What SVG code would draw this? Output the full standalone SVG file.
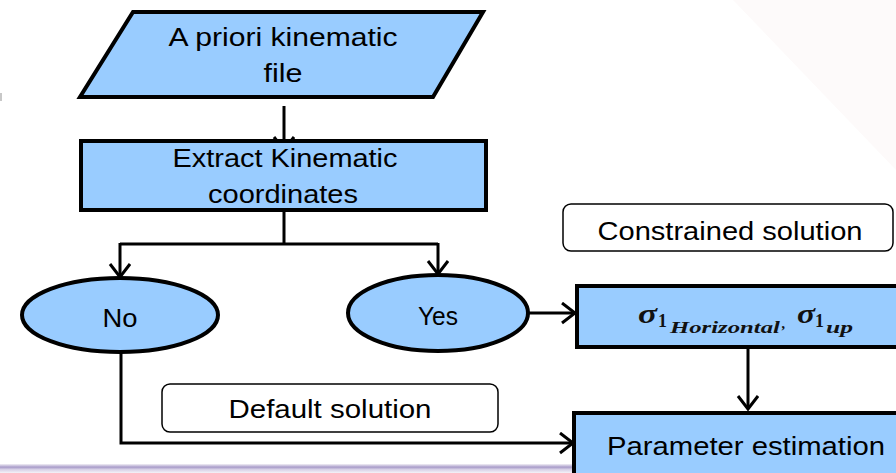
<svg xmlns="http://www.w3.org/2000/svg" width="896" height="473" viewBox="0 0 896 473">
<style>
.shape{fill:#99CCFF;stroke:#000;stroke-width:4}
.note{fill:#fff;stroke:#000;stroke-width:1.5}
.t{font-family:"Liberation Sans",Arial,sans-serif;font-size:26px;fill:#000;text-anchor:middle}
.conn{fill:none;stroke:#000;stroke-width:3;marker-end:url(#ah)}
.m{font-family:"Liberation Serif","Times New Roman",serif;font-weight:bold;font-style:italic;fill:#111}
</style>
<defs>
<marker id="ah" markerUnits="userSpaceOnUse" markerWidth="20" markerHeight="24" refX="15" refY="11" orient="auto" viewBox="0 0 20 24">
<path d="M2,1 L15,11 L2,21" fill="none" stroke="#000" stroke-width="3"/>
</marker>
<linearGradient id="bar" x1="0" y1="0" x2="0" y2="1">
<stop offset="0" stop-color="#f2f0f6"/>
<stop offset="0.35" stop-color="#a89bc9"/>
<stop offset="0.6" stop-color="#d6cfe6"/>
<stop offset="1" stop-color="#f4f2f8"/>
</linearGradient>
</defs>
<rect width="896" height="473" fill="#fff"/>
<polygon points="733,0 896,0 896,170" fill="#fdfafa"/>
<rect x="0" y="93" width="2" height="8" fill="#c8c8c8"/>
<rect x="0" y="464" width="574" height="9" fill="url(#bar)"/>

<g id="connectors">
<path class="conn" d="M284,106 V150"/>
<path d="M284,210 V244 M120,244 H438" fill="none" stroke="#000" stroke-width="3"/>
<path class="conn" d="M120,243 V277"/>
<path class="conn" d="M438,243 V274"/>
<path class="conn" d="M528,313 H575"/>
<path class="conn" d="M121,350 V443 H573"/>
<path class="conn" d="M748,347 V409"/>
</g>

<g id="input-file">
<polygon class="shape" points="133,12 483,12 433,97 80,97" stroke-width="3.5"/>
<text class="t" x="283" y="46" textLength="229" lengthAdjust="spacingAndGlyphs">A priori kinematic</text>
<text class="t" x="283" y="82" textLength="39" lengthAdjust="spacingAndGlyphs">file</text>
</g>

<g id="extract">
<rect class="shape" x="81" y="141" width="405" height="69"/>
<text class="t" x="285" y="167" textLength="225" lengthAdjust="spacingAndGlyphs">Extract Kinematic</text>
<text class="t" x="283" y="203" textLength="150" lengthAdjust="spacingAndGlyphs">coordinates</text>
</g>

<g id="no">
<ellipse class="shape" cx="120" cy="315" rx="98" ry="37" stroke-width="3.5"/>
<text class="t" x="120" y="327" textLength="35" lengthAdjust="spacingAndGlyphs">No</text>
</g>

<g id="yes">
<ellipse class="shape" cx="438" cy="313" rx="90" ry="38" stroke-width="3.5"/>
<text class="t" x="438" y="325" textLength="40" lengthAdjust="spacingAndGlyphs">Yes</text>
</g>

<g id="constrained-label">
<rect class="note" x="563" y="204" width="330" height="47" rx="8"/>
<text class="t" x="730" y="240" textLength="265" lengthAdjust="spacingAndGlyphs">Constrained solution</text>
</g>

<g id="sigma">
<rect class="shape" x="577" y="286" width="325" height="61" stroke-width="5"/>
<text class="m"><tspan x="638" y="323" font-size="27" textLength="19" lengthAdjust="spacingAndGlyphs">σ</tspan><tspan x="658" y="327" font-size="19" font-style="normal" textLength="9" lengthAdjust="spacingAndGlyphs">1</tspan><tspan x="670" y="333" font-size="16" textLength="110" lengthAdjust="spacingAndGlyphs">Horizontal</tspan><tspan x="782" y="328" font-size="15">,</tspan><tspan x="797" y="323" font-size="27" textLength="18" lengthAdjust="spacingAndGlyphs">σ</tspan><tspan x="815" y="327" font-size="19" font-style="normal" textLength="9" lengthAdjust="spacingAndGlyphs">1</tspan><tspan x="826" y="333" font-size="16" textLength="27" lengthAdjust="spacingAndGlyphs">up</tspan></text>
</g>

<g id="default-label">
<rect class="note" x="162" y="384" width="336" height="48" rx="8"/>
<text class="t" x="330" y="418" textLength="203" lengthAdjust="spacingAndGlyphs">Default solution</text>
</g>

<g id="param">
<rect class="shape" x="574" y="413" width="330" height="70"/>
<text class="t" x="746" y="455" textLength="278" lengthAdjust="spacingAndGlyphs">Parameter estimation</text>
</g>
</svg>
